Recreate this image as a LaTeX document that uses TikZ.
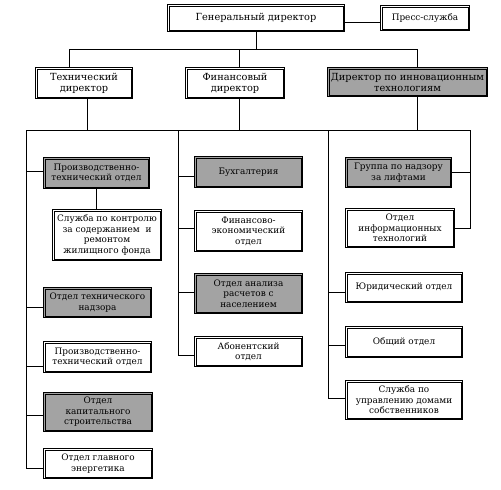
\documentclass[tikz,border=0pt]{standalone}
\usepackage{fontspec}
\setmainfont{DejaVu Serif}
\usetikzlibrary{calc}
\tikzset{
  box/.style={draw, line width=0.8pt, align=center,
    inner sep=1pt, font=\fontsize{8.9}{10.4}\selectfont},
  shaded/.style={box, fill=black!36},
  big/.style={font=\fontsize{9.8}{11}\selectfont},
  innerline/.style={line width=0.5pt},
  conn/.style={line width=0.6pt},
  thick conn/.style={line width=0.9pt}
}
\newcommand{\bx}[7]{% name, x1,y1,x2,y2, style, text
  \node[#6, minimum width={#4-#2-0.8}, minimum height={#5-#3-0.8}] (#1) at ({(#2+#4)/2},{(#3+#5)/2}) {#7};
  \draw[innerline] ([shift={(1.9pt,-1.9pt)}]#1.north west) rectangle ([shift={(-1.9pt,1.9pt)}]#1.south east);}
\begin{document}
\begin{tikzpicture}[x=1pt,y=-1pt]
\useasboundingbox (0,0) rectangle (501,490);
\bx{gd}{167}{4}{345}{32}{box,big}{Генеральный директор}
\bx{ps}{380}{5}{470}{31}{box}{Пресс-служба}
\bx{tech}{35}{67}{133}{99}{box,big}{Технический\\директор}
\bx{fin}{185}{67}{285}{99}{box,big}{Финансовый\\директор}
\bx{innov}{327}{67}{488}{97}{shaded,big}{Директор по инновационным\\технологиям}
% left column
\bx{pto1}{43}{157}{150}{189}{shaded}{Производственно-\\технический отдел}
\bx{kontrol}{52}{209}{162}{261}{box}{Служба по контролю\\за содержанием \ и\\ремонтом\\жилищного фонда}
\bx{tnadz}{43}{287}{152}{318}{shaded}{Отдел технического\\надзора}
\bx{pto2}{43}{341}{152}{373}{box}{Производственно-\\технический отдел}
\bx{kapstr}{43}{392}{153}{432}{shaded}{Отдел\\капитального\\строительства}
\bx{energ}{43}{448}{153}{479}{box}{Отдел главного\\энергетика}
% middle column
\bx{buh}{194}{156}{303}{188}{shaded}{Бухгалтерия}
\bx{finek}{194}{210}{303}{252}{box}{Финансово-\\экономический\\отдел}
\bx{analiz}{194}{273}{303}{314}{shaded}{Отдел анализа\\расчетов с\\населением}
\bx{abon}{194}{336}{303}{367}{box}{Абонентский\\отдел}
% right column
\bx{lift}{345}{157}{452}{188}{shaded}{Группа по надзору\\за лифтами}
\bx{infot}{345}{208}{455}{248}{box}{Отдел\\информационных\\технологий}
\bx{yur}{345}{272}{463}{303}{box}{Юридический отдел}
\bx{obsh}{345}{326}{463}{358}{box}{Общий отдел}
\bx{upr}{345}{380}{463}{420}{box}{Служба по\\управлению домами\\собственников}
% bus coordinates
\coordinate (b1a) at (69,49);
\coordinate (b1b) at (239,49);
\coordinate (b1c) at (417,49);
\coordinate (b2a) at (26,130);
\coordinate (b2b) at (178,130);
\coordinate (b2c) at (328,130);
\coordinate (b2d) at (470,130);
\coordinate (b2t) at (87,130);
\coordinate (b2f) at (239,130);
\coordinate (b2i) at (417,130);
% top connectors
\draw[conn] ($(gd.east)+(0,4)$) -- ($(ps.west)+(0,4)$);
\draw[thick conn] (gd.south) -- (gd.south |- b1a);
\draw[conn] (b1a) -- (b1c);
\draw[conn] (b1a) -- (b1a |- tech.north);
\draw[conn] (b1b) -- (b1b |- fin.north);
\draw[conn] (b1c) -- (b1c |- innov.north);
\draw[thick conn] (tech.south -| b2t) -- (b2t);
\draw[thick conn] (fin.south -| b2f) -- (b2f);
\draw[thick conn] (innov.south -| b2i) -- (b2i);
\draw[conn] (b2a) -- (b2d);
% left column connectors
\draw[conn] ($(pto1.west)+(0,-2)$) -| (b2a);
\draw[conn] ($(tnadz.west)+(0,4.5)$) -| (b2a);
\draw[conn] ($(pto2.west)+(0,9)$) -| (b2a);
\draw[conn] ($(kapstr.west)+(0,3)$) -| (b2a);
\draw[conn] ($(energ.west)+(0,4.5)$) -| (b2a);
\draw[conn] (pto1.south) -- (pto1.south |- kontrol.north);
% middle column connectors
\draw[conn] ($(buh.west)+(0,4)$) -| (b2b);
\draw[conn] ($(finek.west)+(0,-3)$) -| (b2b);
\draw[conn] ($(analiz.west)+(0,-1.5)$) -| (b2b);
\draw[conn] ($(abon.west)+(0,3.5)$) -| (b2b);
% right column connectors
\draw[conn] ($(yur.west)+(0,4.5)$) -| (b2c);
\draw[conn] ($(obsh.west)+(0,3)$) -| (b2c);
\draw[conn] ($(upr.west)+(0,-2)$) -| (b2c);
\draw[conn] (lift.east) -| (b2d);
\draw[conn] (infot.east) -| (b2d);
\end{tikzpicture}
\end{document}
